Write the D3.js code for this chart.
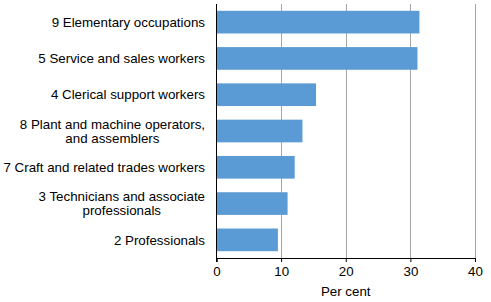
<!DOCTYPE html>
<html>
<head>
<meta charset="utf-8">
<script src="https://cdn.jsdelivr.net/npm/d3@7"></script>
<style>
  body { margin: 0; background: #fff; }
  svg text { font-family: "Liberation Sans", Arial, sans-serif; font-size: 13.33px; fill: #000; }
</style>
</head>
<body>
<svg id="chart" width="491" height="302"></svg>
<script>
// category labels, each an array of text lines
var categories = [
  ["9 Elementary occupations"],
  ["5 Service and sales workers"],
  ["4 Clerical support workers"],
  ["8 Plant and machine operators,", "and assemblers"],
  ["7 Craft and related trades workers"],
  ["3 Technicians and associate", "professionals"],
  ["2 Professionals"]
];
var values = [31.4, 31.1, 15.4, 13.3, 12.1, 11.0, 9.5];
var xTicks = [0, 10, 20, 30, 40];
var xTitle = "Per cent";

var margin = {top: 4, right: 16, bottom: 44, left: 216.5};
var width = 491, height = 302;

var svg = d3.select("#chart");

var x = d3.scaleLinear()
  .domain([0, 40])
  .range([margin.left, width - margin.right]);

var y = d3.scaleBand()
  .domain(d3.range(categories.length))
  .range([margin.top, height - margin.bottom])
  .paddingInner(0.375)
  .paddingOuter(0.1875);

// vertical gridlines
svg.append("g")
  .selectAll("line")
  .data(xTicks.slice(1))
  .join("line")
  .attr("x1", d => Math.round(x(d)) + 0.5)
  .attr("x2", d => Math.round(x(d)) + 0.5)
  .attr("y1", margin.top)
  .attr("y2", height - margin.bottom)
  .attr("stroke", "#a6a6a6")
  .attr("stroke-width", 1);

// bars
svg.append("g")
  .selectAll("rect")
  .data(values)
  .join("rect")
  .attr("x", x(0))
  .attr("y", (d, i) => y(i))
  .attr("width", d => x(d) - x(0))
  .attr("height", y.bandwidth())
  .attr("fill", "#5b9bd5");

// x axis
var xAxis = svg.append("g")
  .attr("transform", "translate(0," + (height - margin.bottom) + ")")
  .call(d3.axisBottom(x).tickValues(xTicks).tickSize(4).tickPadding(5));
xAxis.select(".domain").attr("stroke", "#000");
xAxis.selectAll(".tick line").attr("stroke", "#000");
xAxis.selectAll("text").attr("font-family", null).attr("font-size", null);

// y axis line
svg.append("line")
  .attr("x1", x(0)).attr("x2", x(0))
  .attr("y1", margin.top).attr("y2", height - margin.bottom + 4)
  .attr("stroke", "#000");

// category labels (multi-line labels centred on each other, block right-aligned)
var labels = svg.append("g")
  .selectAll("text")
  .data(categories)
  .join("text")
  .attr("text-anchor", "middle");

labels.each(function(lines, i) {
  var t = d3.select(this);
  var cy = y(i) + y.bandwidth() / 2;
  var lh = 14;
  lines.forEach(function(line, j) {
    t.append("tspan")
      .attr("y", cy + (j - (lines.length - 1) / 2) * lh)
      .attr("dy", "0.35em")
      .text(line);
  });
  // width of widest line decides the centre
  var w = d3.max(t.selectAll("tspan").nodes(), n => n.getComputedTextLength());
  t.selectAll("tspan").attr("x", x(0) - 11.5 - w / 2);
});

// x axis title
svg.append("text")
  .attr("x", (x(0) + x(40)) / 2)
  .attr("y", 291)
  .attr("dy", "0.35em")
  .attr("text-anchor", "middle")
  .text(xTitle);
</script>
</body>
</html>
